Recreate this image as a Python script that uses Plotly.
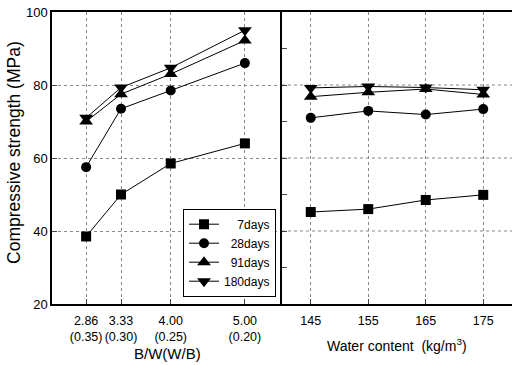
import plotly.graph_objects as go

bw = [2.86, 3.33, 4.00, 5.00]
bw_labels = ["2.86<br>(0.35)", "3.33<br>(0.30)", "4.00<br>(0.25)", "5.00<br>(0.20)"]
water = [145, 155, 165, 175]
water_labels = ["145", "155", "165", "175"]

series_names = ["\u2007\u20077days", "\u200728days", "\u200791days", "180days"]
left_7 = [38.5, 50.0, 58.5, 64.0]
left_28 = [57.5, 73.5, 78.5, 86.0]
left_91 = [70.0, 77.5, 83.0, 92.2]
left_180 = [71.0, 79.3, 84.7, 95.0]
right_7 = [45.2, 46.0, 48.5, 49.9]
right_28 = [71.0, 72.9, 71.9, 73.4]
right_91 = [76.8, 78.0, 78.9, 77.4]
right_180 = [79.2, 79.6, 79.3, 78.7]

symbols = ["square", "circle", "triangle-up", "triangle-down"]
sizes = [10, 10, 12, 12]
FONT = "Liberation Sans, Arial"

fig = go.Figure()
left = [left_7, left_28, left_91, left_180]
right = [right_7, right_28, right_91, right_180]
for i, name in enumerate(series_names):
    fig.add_trace(go.Scatter(x=bw, y=left[i], mode="lines+markers", name=name,
                             line=dict(color="black", width=1),
                             marker=dict(symbol=symbols[i], size=sizes[i], color="black"),
                             xaxis="x", yaxis="y", legendgroup=str(i)))
    fig.add_trace(go.Scatter(x=water, y=right[i], mode="lines+markers", name=name,
                             line=dict(color="black", width=1),
                             marker=dict(symbol=symbols[i], size=sizes[i], color="black"),
                             xaxis="x2", yaxis="y2", legendgroup=str(i), showlegend=False))

grid = dict(showgrid=True, gridcolor="#888", griddash="dot", gridwidth=1)
fig.update_layout(
    width=512, height=365,
    margin=dict(l=52, r=0, t=12, b=61),
    paper_bgcolor="white", plot_bgcolor="white",
    font=dict(family=FONT, size=13, color="black"),
    xaxis=dict(domain=[0, 0.5], range=[2.4, 5.5], tickvals=bw, ticktext=bw_labels,
               tickangle=0, tickfont=dict(size=12.5), ticklabelstandoff=4,
               ticks="inside", ticklen=5, showline=True, linecolor="black", linewidth=1.5,
               mirror=True, zeroline=False, **grid),
    yaxis=dict(range=[20, 100], tickvals=[20, 40, 60, 80, 100], ticks="inside", ticklen=5,
               showline=True, linecolor="black", linewidth=1.5, zeroline=False,
               tickfont=dict(size=13), **grid),
    xaxis2=dict(domain=[0.5, 1], range=[140, 180], tickvals=water, ticktext=water_labels,
                tickangle=0, tickfont=dict(size=12.5), ticklabelstandoff=4,
                ticks="inside", ticklen=5, showline=True, linecolor="black", linewidth=1.5,
                mirror=True, zeroline=False, anchor="y2", **grid),
    yaxis2=dict(range=[20, 100], anchor="x2", dtick=10, ticks="inside", ticklen=5,
                showticklabels=False, showline=True, linecolor="black", linewidth=1.5,
                zeroline=False, showgrid=False),
    legend=dict(x=0.487, xanchor="right", y=0.025, yanchor="bottom",
                bordercolor="black", borderwidth=1, bgcolor="white",
                font=dict(size=12), tracegroupgap=0, itemwidth=30),
    showlegend=True,
)
for yv in [40, 60, 80]:
    fig.add_shape(type="line", xref="x2", yref="y2", x0=140, x1=180, y0=yv, y1=yv,
                  line=dict(color="#888", width=1, dash="dot"), layer="below")

fig.add_annotation(text="Compressive strength (MPa)", xref="paper", yref="paper",
                   x=-0.083, y=0.52, xanchor="center", yanchor="middle", textangle=-90,
                   showarrow=False, font=dict(size=17.5))
fig.add_annotation(text="B/W(W/B)", xref="paper", yref="paper",
                   x=0.25, y=-0.17, xanchor="center", yanchor="middle",
                   showarrow=False, font=dict(size=15))
fig.add_annotation(text="Water content  (kg/m<sup>3</sup>)", xref="paper", yref="paper",
                   x=0.75, y=-0.142, xanchor="center", yanchor="middle",
                   showarrow=False, font=dict(size=14))

fig.write_html("out.html")
